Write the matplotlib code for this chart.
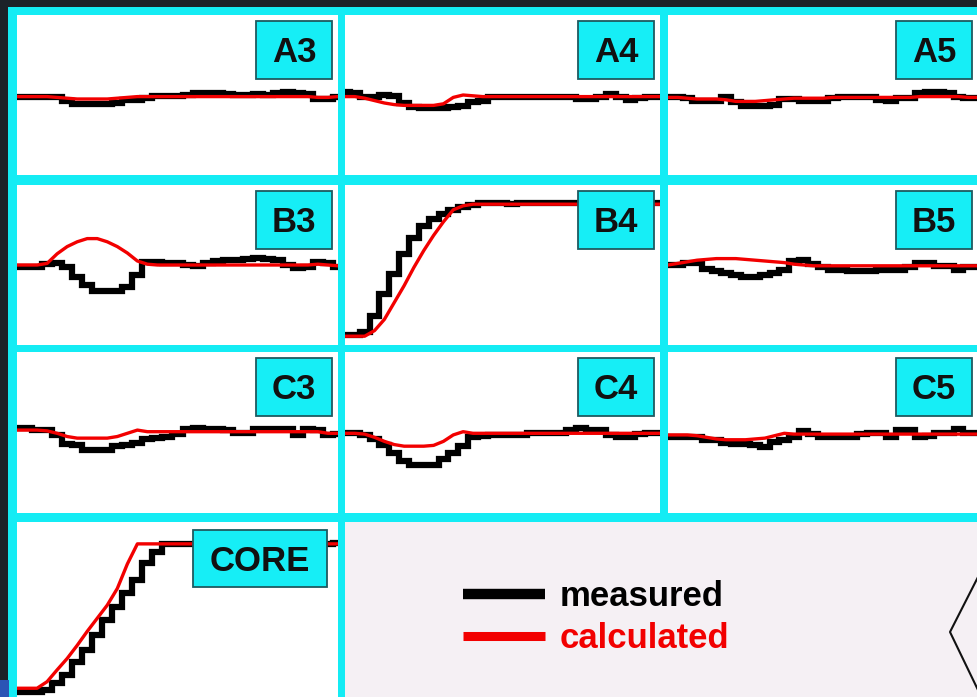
import numpy as np
import matplotlib
matplotlib.use("Agg")
import matplotlib.pyplot as plt
from matplotlib.patches import Rectangle
from matplotlib.lines import Line2D

# ---- detector responses: measured vs calculated, 33 samples per trace ----
samples = np.arange(33)

A3_measured = [-0.2, -0.2, -0.2, -0.3, -0.3, -0.8, -1.1, -1.1, -1.1, -1.1, -1.0, -0.6, -0.6, -0.4, -0.1, -0.1,
               -0.1, 0.0, 0.3, 0.3, 0.2, 0.1, 0.0, 0.0, 0.1, 0.0, 0.3, 0.4, 0.3, 0.1, -0.5, -0.5, -0.2]
A3_calculated = [-0.2, -0.2, -0.2, -0.2, -0.3, -0.4, -0.5, -0.5, -0.5, -0.5, -0.4, -0.3] + [-0.2] * 18 + [-0.3, -0.3, -0.2]

A4_measured = [0.4, 0.3, -0.2, -0.2, 0.0, -0.1, -1.0, -1.5, -1.6, -1.6, -1.6, -1.5, -1.4, -0.9, -0.8, -0.3] \
    + [-0.2] * 8 + [-0.5, -0.5, -0.3, 0.1, -0.2, -0.6, -0.4, -0.2, -0.2]
A4_calculated = [-0.2, -0.2, -0.4, -0.7, -1.0, -1.2, -1.3, -1.3, -1.3, -1.3, -1.1, -0.3, 0.0, -0.1] + [-0.2] * 19

A5_measured = [-0.3, -0.3, -0.4, -0.8, -0.8, -0.8, -0.3, -0.9, -1.4, -1.4, -1.4, -1.2, -0.5, -0.5, -0.8, -0.8,
               -0.8, -0.4, -0.2, -0.2, -0.2, -0.2, -0.6, -0.8, -0.4, -0.4, 0.2, 0.4, 0.4, 0.3, -0.3, -0.4, -0.4]
A5_calculated = [-0.3, -0.3, -0.4, -0.5, -0.5, -0.5, -0.6, -0.8, -0.8, -0.8, -0.7, -0.6, -0.5, -0.4, -0.4, -0.4,
                 -0.4, -0.3] + [-0.3] * 8 + [-0.2] * 5 + [-0.3, -0.3]

B3_measured = [-0.2, -0.2, -0.2, 0.1, 0.3, -0.3, -1.5, -2.5, -3.2, -3.3, -3.2, -2.8, -1.2, 0.4, 0.4, 0.2,
               0.3, 0.0, -0.1, 0.2, 0.5, 0.6, 0.6, 0.7, 0.9, 0.8, 0.6, 0.0, -0.4, -0.3, 0.4, 0.3, -0.3]
B3_calculated = [0.0, 0.0, 0.0, 0.2, 1.4, 2.3, 2.9, 3.3, 3.3, 2.9, 2.3, 1.5, 0.5, 0.1] + [0.0] * 16 + [0.1, 0.0, -0.1]

B4_measured = [-8.75, -8.75, -8.4, -6.4, -3.6, -1.1, 1.4, 3.4, 4.9, 5.8, 6.4, 6.9, 7.3, 7.5, 7.7, 7.8, 7.8,
               7.6] + [7.8] * 15
B4_calculated = [-8.9, -8.9, -8.9, -8.2, -6.8, -4.7, -2.6, -0.3, 1.8, 3.7, 5.4, 6.9, 7.4] + [7.6] * 20

B5_measured = [0.0, 0.0, 0.2, 0.2, -0.5, -0.7, -1.0, -1.2, -1.5, -1.5, -1.2, -1.0, -0.6, 0.5, 0.6, 0.1,
               -0.3, -0.6, -0.6, -0.7, -0.8, -0.8, -0.6, -0.6, -0.6, -0.2, 0.3, 0.2, -0.1, -0.1, -0.6, -0.3, -0.2]
B5_calculated = [0.0, 0.2, 0.4, 0.6, 0.7, 0.8, 0.8, 0.8, 0.7, 0.6, 0.5, 0.4, 0.3, 0.1, 0.0] + [-0.1] * 18

C3_measured = [0.5, 0.5, 0.3, 0.3, -0.3, -1.4, -1.6, -2.2, -2.2, -2.2, -1.7, -1.5, -1.3, -0.8, -0.7, -0.6,
               -0.2, 0.4, 0.5, 0.4, 0.4, 0.3, 0.0, 0.0, 0.4, 0.4, 0.4, 0.4, -0.3, 0.4, 0.3, -0.3, -0.2]
C3_calculated = [0.3, 0.3, 0.3, 0.2, -0.1, -0.5, -0.7, -0.7, -0.7, -0.7, -0.5, -0.1, 0.3, 0.1] + [0.1] * 17 + [-0.1, -0.1]

C4_measured = [-0.1, -0.1, -0.3, -0.8, -1.5, -2.6, -3.6, -4.0, -4.0, -4.0, -3.3, -2.5, -1.7, -0.6, -0.4, -0.3,
               -0.3, -0.3, -0.3, -0.1, 0.0, 0.0, 0.0, 0.3, 0.6, 0.3, 0.3, -0.3, -0.5, -0.6, -0.2, -0.1, -0.1]
C4_calculated = [-0.1, -0.1, -0.2, -0.6, -1.1, -1.5, -1.7, -1.7, -1.7, -1.6, -1.1, -0.3, 0.1] + [-0.1] * 20

C5_measured = [-0.5, -0.5, -0.5, -0.6, -0.9, -0.9, -1.3, -1.4, -1.4, -1.5, -1.8, -1.2, -0.9, -0.6, 0.2, -0.2,
               -0.5, -0.5, -0.5, -0.5, -0.2, -0.1, -0.1, -0.5, 0.3, 0.3, -0.5, -0.4, -0.1, -0.1, 0.4, -0.1, -0.1]
C5_calculated = [-0.3, -0.3, -0.3, -0.4, -0.6, -0.8, -0.9, -0.9, -0.9, -0.8, -0.7, -0.4, -0.1] + [-0.2] * 20

CORE_measured = [-9.4, -9.4, -9.4, -9.2, -8.4, -7.5, -6.0, -4.6, -2.9, -1.2, 0.3, 1.9, 3.4, 5.3, 6.6] \
    + [7.45] * 17 + [7.6]
CORE_calculated = [-9.0, -9.0, -9.0, -8.25, -6.9, -5.6, -4.1, -2.5, -1.0, 0.5, 2.4, 5.2, 7.5] + [7.5] * 20

panel_names = ["A3", "A4", "A5", "B3", "B4", "B5", "C3", "C4", "C5"]
measured = [A3_measured, A4_measured, A5_measured, B3_measured, B4_measured, B5_measured,
            C3_measured, C4_measured, C5_measured]
calculated = [A3_calculated, A4_calculated, A5_calculated, B3_calculated, B4_calculated, B5_calculated,
              C3_calculated, C4_calculated, C5_calculated]
legend_labels = ["measured", "calculated"]

# ---- styling ----
W, H = 978, 697
BG = "#1c2228"
CYAN = "#14ecf4"
TAG_FACE = "#16eef6"
TAG_EDGE = "#1e5a60"
RED = "#f20000"
PANEL_LEGEND = "#f5f0f4"
FONT = "Liberation Sans"

COLS = [(17, 338), (345, 660), (668, 978)]
ROWS = [(15, 175), (185, 345), (352, 513)]

fig = plt.figure(figsize=(W / 100, H / 100), dpi=100, facecolor=BG)

# cyan frame behind the panels
fig.add_artist(Rectangle((8 / W, 0), (W - 8) / W, (H - 7) / H, transform=fig.transFigure,
                         facecolor=CYAN, edgecolor="none", zorder=-10))
fig.add_artist(Rectangle((0, 0), 9 / W, 17 / H, transform=fig.transFigure,
                         facecolor="#2b55b5", edgecolor="none", zorder=-9))


def px_axes(x0, y0, x1, y1, face="white"):
    ax = fig.add_axes([x0 / W, 1 - y1 / H, (x1 - x0) / W, (y1 - y0) / H])
    ax.set_facecolor(face)
    ax.set_xticks([])
    ax.set_yticks([])
    for s in ax.spines.values():
        s.set_visible(False)
    return ax


def add_tag(ax, panel, box, text):
    (px0, py0, px1, py1), (bx0, by0, bx1, by1) = panel, box
    pw, ph = px1 - px0, py1 - py0
    fx0, fx1 = (bx0 - px0) / pw, (bx1 - px0) / pw
    fy0, fy1 = 1 - (by1 - py0) / ph, 1 - (by0 - py0) / ph
    ax.add_patch(Rectangle((fx0, fy0), fx1 - fx0, fy1 - fy0, transform=ax.transAxes,
                           facecolor=TAG_FACE, edgecolor=TAG_EDGE, lw=1.3, zorder=5, clip_on=False))
    cy = 1 - ((by0 + by1) / 2 + 12.4 - py0) / ph
    ax.text((fx0 + fx1) / 2, cy, text, transform=ax.transAxes, ha="center", va="baseline",
            fontsize=25, fontweight="bold", family=FONT, color="#111111", zorder=6)


def draw_traces(ax, meas, calc):
    # measured data are read out in discrete steps; the calculation is a continuous curve
    ax.plot(samples, meas, color="black", lw=4.5, drawstyle="steps-mid",
            solid_joinstyle="miter", zorder=2)
    ax.plot(samples, calc, color=RED, lw=2.4, solid_joinstyle="round", zorder=3)
    ax.set_xlim(0, 32)
    ax.set_ylim(-10, 10)


for k, name in enumerate(panel_names):
    r, c = divmod(k, 3)
    x0, x1 = COLS[c]
    y0, y1 = ROWS[r]
    ax = px_axes(x0, y0, x1, y1)
    draw_traces(ax, measured[k], calculated[k])
    add_tag(ax, (x0, y0, x1, y1), (x1 - 82, y0 + 6, x1 - 6, y0 + 64), name)

# core panel
core_box = (17, 522, 338, 697)
ax_core = px_axes(*core_box)
draw_traces(ax_core, CORE_measured, CORE_calculated)
add_tag(ax_core, core_box, (193, 530, 327, 587), "CORE")

# legend panel
ax_leg = px_axes(345, 522, 978, 697, face=PANEL_LEGEND)
handles = [Line2D([], [], color="black", lw=7.5, solid_capstyle="butt"),
           Line2D([], [], color=RED, lw=6.5, solid_capstyle="butt")]
ax_leg.legend(handles, legend_labels, loc="upper left",
              bbox_to_anchor=(463 / W, 1 - 580 / H), bbox_transform=fig.transFigure,
              frameon=False, prop={"family": FONT, "weight": "bold", "size": 25},
              labelcolor="linecolor", handlelength=2.35, handletextpad=0.43,
              labelspacing=0.27, borderpad=0, borderaxespad=0)

# outline shape at the right edge of the legend panel
fig.add_artist(Line2D([978 / W, 950 / W, 978 / W], [1 - 577 / H, 1 - 632 / H, 1 - 690 / H],
                      transform=fig.transFigure, color="#111111", lw=1.5, zorder=10))

fig.savefig("out.png", dpi=100, facecolor=fig.get_facecolor())
